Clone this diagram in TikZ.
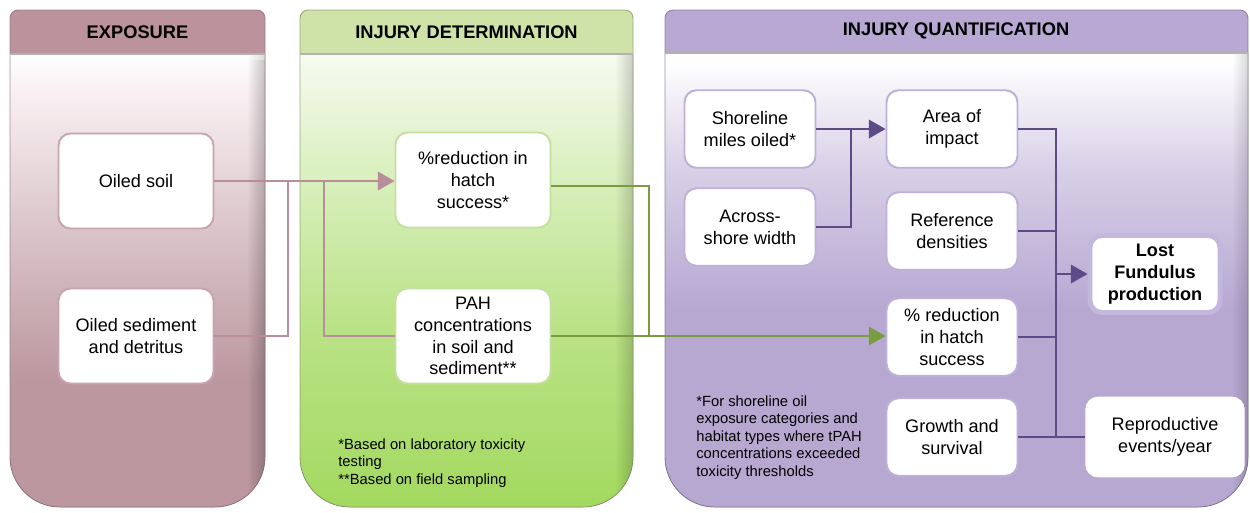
\documentclass[tikz,border=0pt]{standalone}
\usepackage{fontspec}
\setmainfont{Liberation Sans}
\usetikzlibrary{arrows.meta,fadings}

\definecolor{mvH}{RGB}{188,146,156}
\definecolor{mvB}{RGB}{188,151,160}
\definecolor{mvT}{RGB}{250,240,243}
\definecolor{mvLine}{RGB}{185,141,153}
\definecolor{mvBorder}{RGB}{200,165,174}
\definecolor{grH}{RGB}{207,227,168}
\definecolor{grB}{RGB}{163,217,95}
\definecolor{grT}{RGB}{246,251,240}
\definecolor{grLine}{RGB}{120,156,62}
\definecolor{grBorder}{RGB}{196,224,160}
\definecolor{puH}{RGB}{185,168,211}
\definecolor{puB}{RGB}{183,168,210}
\definecolor{puLine}{RGB}{94,74,134}
\definecolor{puBorder}{RGB}{190,176,216}
\definecolor{puLost}{RGB}{196,183,221}

\pgfdeclareverticalshading{expbody}{100bp}{color(0bp)=(mvB); color(25bp)=(mvB); color(39bp)=(mvB); color(56bp)=(mvB!55!white); color(71bp)=(mvT); color(75bp)=(white); color(100bp)=(white)}
\pgfdeclareverticalshading{grbody}{100bp}{color(0bp)=(grB); color(25bp)=(grB); color(45bp)=(grB!75!white); color(62bp)=(grB!40!white); color(75bp)=(grT); color(100bp)=(grT)}
\pgfdeclareverticalshading{pubody}{100bp}{color(0bp)=(puB); color(25bp)=(puB); color(47bp)=(puB); color(62bp)=(puB!55!white); color(74bp)=(white); color(100bp)=(white)}

\tikzfading[name=shadowright, left color=transparent!100, right color=transparent!0]

\tikzset{
  box/.style={draw, fill=white, rounded corners=0.24cm, line width=1.1pt, align=center,
    font=\fontsize{10.3}{12.4}\selectfont, inner sep=2pt},
  exbox/.style={box, draw=mvBorder, minimum width=3.1cm, minimum height=1.9cm},
  idbox/.style={box, draw=grBorder, minimum width=3.1cm, minimum height=1.9cm},
  qbox/.style={box, draw=puBorder, minimum width=2.62cm, minimum height=1.55cm},
  lostbox/.style={box, draw=puLost, line width=2.8pt, minimum width=2.6cm, minimum height=1.54cm, font=\fontsize{10.3}{12.4}\selectfont\bfseries},
  repbox/.style={box, draw=white, minimum width=3.15cm, minimum height=1.58cm},
  hdr/.style={font=\fontsize{10.4}{12}\selectfont\bfseries},
  foot/.style={anchor=north west, align=left, inner sep=0pt, font=\fontsize{8.4}{10}\selectfont},
  mvcon/.style={draw=mvLine, line width=1.2pt},
  grcon/.style={draw=grLine, line width=1.2pt},
  pucon/.style={draw=puLine, line width=1.2pt},
  tip/.style={-{Triangle[length=9.5pt,width=10.5pt]}},
  outline/.style={line width=0.5pt, opacity=0.7}
}

\begin{document}
\begin{tikzpicture}[x=0.02cm, y=-0.02cm]
\useasboundingbox (0,0) rectangle (1250,512);
\fill[white] (0,0) rectangle (1250,512);

% ---------- panels ----------
% exposure
\fill[shading=expbody] (10,54) [rounded corners=1cm] -- (10,507) -- (265,507) [sharp corners] -- (265,54) -- cycle;
\begin{scope}
  \clip (10,54) [rounded corners=1cm] -- (10,507) -- (265,507) [sharp corners] -- (265,54) -- cycle;
  \fill[black, opacity=0.22, path fading=shadowright] (247,54) rectangle (265,507);
  \fill[white, opacity=0.35] (10,54) rectangle (265,60);
\end{scope}
\fill[mvH] (10,54) [rounded corners=0.16cm] -- (10,10) -- (265,10) [sharp corners] -- (265,54) -- cycle;
\draw[outline, draw=mvH!70!black] (10,54) [rounded corners=0.16cm] -- (10,10) -- (265,10) [rounded corners=1cm] -- (265,507) -- (10,507) [sharp corners] -- cycle;
\draw[gray!60, line width=1pt] (10,54) -- (265,54);

% injury determination
\fill[shading=grbody] (300,54) [rounded corners=1cm] -- (300,507) -- (633,507) [sharp corners] -- (633,54) -- cycle;
\begin{scope}
  \clip (300,54) [rounded corners=1cm] -- (300,507) -- (633,507) [sharp corners] -- (633,54) -- cycle;
  \fill[black, opacity=0.18, path fading=shadowright] (615,54) rectangle (633,507);
\end{scope}
\fill[grH] (300,54) [rounded corners=0.16cm] -- (300,10) -- (633,10) [sharp corners] -- (633,54) -- cycle;
\draw[outline, draw=grH!60!black] (300,54) [rounded corners=0.16cm] -- (300,10) -- (633,10) [rounded corners=1cm] -- (633,507) -- (300,507) [sharp corners] -- cycle;
\draw[gray!60, line width=1pt] (300,54) -- (633,54);

% injury quantification
\fill[shading=pubody] (665,53) [rounded corners=1cm] -- (665,507) -- (1248,507) [sharp corners] -- (1248,53) -- cycle;
\begin{scope}
  \clip (665,53) [rounded corners=1cm] -- (665,507) -- (1248,507) [sharp corners] -- (1248,53) -- cycle;
  \fill[black, opacity=0.15, path fading=shadowright] (1232,53) rectangle (1248,507);
\end{scope}
\fill[puH] (665,53) [rounded corners=0.16cm] -- (665,10) -- (1248,10) [sharp corners] -- (1248,53) -- cycle;
\draw[outline, draw=puH!60!black] (665,53) [rounded corners=0.16cm] -- (665,10) -- (1248,10) [rounded corners=1cm] -- (1248,507) -- (665,507) [sharp corners] -- cycle;
\draw[gray!60, line width=1pt] (665,53) -- (1248,53);

\node[hdr] (hExp) at (137.5,32) {EXPOSURE};
\node[hdr] (hDet) at (466.5,32) {INJURY DETERMINATION};
\node[hdr] (hQua) at (956,31) {INJURY QUANTIFICATION};

% ---------- nodes ----------
\node[exbox] (ex1) at (136,181) {Oiled soil};
\node[exbox] (ex2) at (136,336) {Oiled sediment\\and detritus};

\node[idbox] (id1) at (473,180) {\%reduction in\\hatch\\success*};
\node[idbox] (id2) at (473,336) {PAH\\concentrations\\in soil and\\sediment**};

\node[qbox] (sh) at (750,129) {Shoreline\\miles oiled*};
\node[qbox] (ac) at (750,227) {Across-\\shore width};
\node[qbox] (ar) at (952,129) {Area of\\impact};
\node[qbox] (rf) at (952,231) {Reference\\densities};
\node[qbox] (h2) at (952,337) {\% reduction\\in hatch\\success};
\node[qbox] (gr) at (952,437) {Growth and\\survival};
\node[lostbox] (lost) at (1155,274) {Lost\\Fundulus\\production};
\node[repbox] (rep) at (1165,437) {Reproductive\\events/year};

\node[foot] (fn1) at (338,438) {*Based on laboratory toxicity\\testing\\**Based on field sampling};
\node[foot] (fn2) at (696,395) {*For shoreline oil\\exposure categories and\\habitat types where tPAH\\concentrations exceeded\\toxicity thresholds};

% ---------- connectors ----------
\coordinate (j1) at (288,181);
\coordinate (j2) at (324,181);
\coordinate (j3) at (649,186);
\coordinate (j4) at (649,336);
\coordinate (j5) at (851,129);
\coordinate (tb) at (1056,437);

\draw[mvcon, tip] (ex1.east) -- (ex1.east -| id1.west);
\draw[mvcon] (ex2.east) -| (j1);
\draw[mvcon] (j2) |- (id2.west);

\draw[grcon] (j3 -| id1.east) -- (j3) -- (j4);
\draw[grcon, tip] (id2.east) -- (id2.east -| h2.west);

\draw[pucon, tip] (sh.east) -- (ar.west);
\draw[pucon] (ac.east) -| (j5);

\draw[pucon] (ar.east) -| (tb);
\draw[pucon] (rf.east) -- (rf.east -| tb);
\draw[pucon] (h2.east) -- (h2.east -| tb);
\draw[pucon] (gr.east) -- (rep.west);
\draw[pucon, tip] (lost.west -| tb) -- (lost.west);
\end{tikzpicture}
\end{document}
